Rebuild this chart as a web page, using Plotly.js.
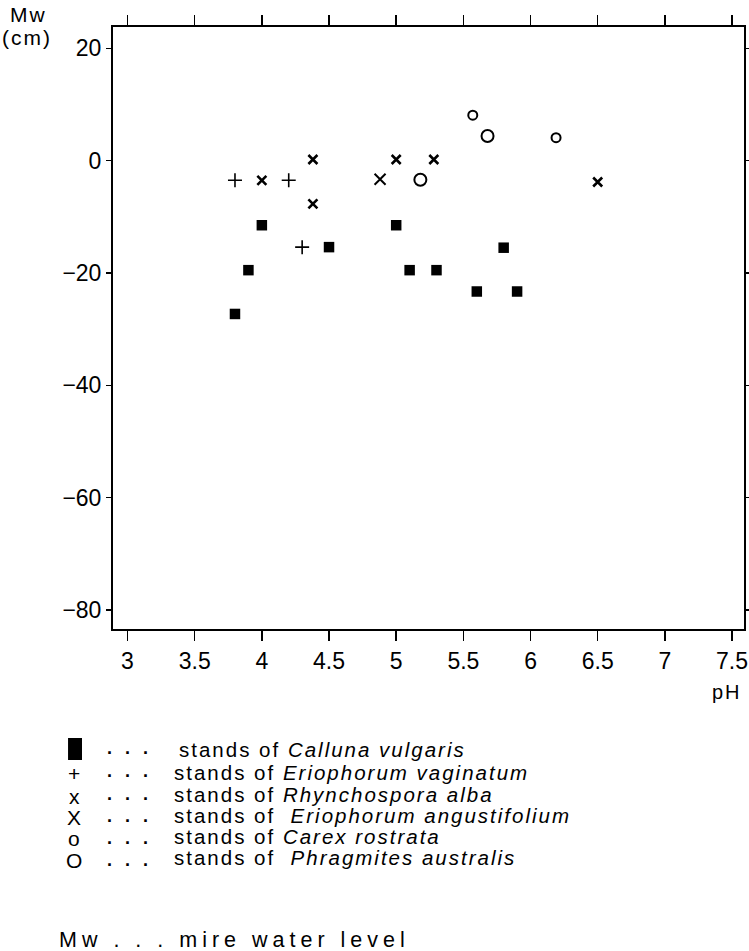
<!DOCTYPE html>
<html>
<head>
<meta charset="utf-8">
<script src="https://cdn.plot.ly/plotly-3.0.1.min.js"></script>
<style>
  html, body { margin: 0; padding: 0; background: #fff; }
  .annotation-text { letter-spacing: 2px; }
  text.annotation-text[style*="21.5px"] { letter-spacing: 5px; }
</style>
</head>
<body>
<div id="chart" style="width:749px;height:951px;"></div>
<script>
// ---- data ----
const callunaX = [3.8, 3.9, 4.0, 4.5, 5.0, 5.1, 5.3, 5.6, 5.8, 5.9];
const callunaY = [-27.3, -19.5, -11.5, -15.4, -11.5, -19.5, -19.5, -23.3, -15.5, -23.3];
const vaginatumX = [3.8, 4.2, 4.3];
const vaginatumY = [-3.5, -3.5, -15.4];
const rhynchosporaX = [4.0, 4.38, 4.38, 5.0, 5.28, 6.5];
const rhynchosporaY = [-3.5, 0.2, -7.7, 0.2, 0.2, -3.8];
const angustifoliumX = [4.88];
const angustifoliumY = [-3.3];
const carexX = [5.57, 6.19];
const carexY = [8.1, 4.1];
const phragmitesX = [5.18, 5.68];
const phragmitesY = [-3.4, 4.4];

const xTickVals = [3, 3.5, 4, 4.5, 5, 5.5, 6, 6.5, 7, 7.5];
const xTickText = ['3', '3.5', '4', '4.5', '5', '5.5', '6', '6.5', '7', '7.5'];
const yTickVals = [-80, -60, -40, -20, 0, 20];

const legendSymbols = ['+', 'x', 'X', 'o', 'O'];
const legendLabels = [
  'stands of <i>Calluna vulgaris</i>',
  'stands of <i>Eriophorum vaginatum</i>',
  'stands of <i>Rhynchospora alba</i>',
  'stands of  <i>Eriophorum angustifolium</i>',
  'stands of <i>Carex rostrata</i>',
  'stands of  <i>Phragmites australis</i>'
];
const footnote = 'Mw . . . mire water level';

// ---- layout helpers (pixel -> paper) ----
const W = 749, H = 951;
const M = {l: 113, r: 4.5, t: 27, b: 322};
const PW = W - M.l - M.r, PH = H - M.t - M.b;
const px = v => (v - M.l) / PW;
const py = v => (H - M.b - v) / PH;

const FONT = '"Liberation Sans", Arial, Helvetica, sans-serif';

const traces = [
  {x: callunaX, y: callunaY, mode: 'markers', type: 'scatter',
   marker: {symbol: 'square', size: 10.5, color: '#000'}},
  {x: vaginatumX, y: vaginatumY, mode: 'markers', type: 'scatter',
   marker: {symbol: 'cross-thin-open', size: 10, color: '#000', line: {width: 1.6, color: '#000'}}},
  {x: rhynchosporaX, y: rhynchosporaY, mode: 'markers', type: 'scatter',
   marker: {symbol: 'x-thin-open', size: 9, color: '#000', line: {width: 2.6, color: '#000'}}},
  {x: angustifoliumX, y: angustifoliumY, mode: 'markers', type: 'scatter',
   marker: {symbol: 'x-thin-open', size: 11, color: '#000', line: {width: 2, color: '#000'}}},
  {x: carexX, y: carexY, mode: 'markers', type: 'scatter',
   marker: {symbol: 'circle-open', size: 9, color: '#000', line: {width: 2, color: '#000'}}},
  {x: phragmitesX, y: phragmitesY, mode: 'markers', type: 'scatter',
   marker: {symbol: 'circle-open', size: 12, color: '#000', line: {width: 2, color: '#000'}}}
];

const ann = [];
function addText(text, x, y, size, xanchor, extra) {
  ann.push(Object.assign({
    text: text, xref: 'paper', yref: 'paper', x: px(x), y: py(y),
    xanchor: xanchor || 'left', yanchor: 'middle', showarrow: false,
    font: {family: FONT, size: size, color: '#000'}
  }, extra || {}));
  return ann.length - 1;
}
addText('Mw', 28, 14, 21, 'center');
addText('(cm)', 27, 37, 21, 'center');
addText('pH', 727, 692, 20, 'center');

const symRows = [773, 796, 817, 838, 860];
legendSymbols.forEach((s, i) => addText(s, 75, symRows[i], 21, 'center', {height: 19, valign: 'middle'}));
const dotRows = [752, 775, 798, 820, 842, 864];
dotRows.forEach(r => addText('<b>.\u2002.\u2002.</b>', 105, r - 4.5, 18, 'left'));
const textRows = [749, 772, 794, 815, 836, 857];
const textX = [177, 172, 172, 172, 172, 172];
legendLabels.forEach((t, i) => addText(t, textX[i], textRows[i], 20.5, 'left'));
addText(footnote, 57, 940, 21.5, 'left');

const layout = {
  width: W, height: H,
  margin: M,
  paper_bgcolor: '#fff', plot_bgcolor: '#fff',
  showlegend: false,
  font: {family: FONT, color: '#000'},
  xaxis: {
    range: [2.892, 7.589], tickvals: xTickVals, ticktext: xTickText,
    ticks: 'outside', ticklen: 10, tickwidth: 1.5, tickcolor: '#000',
    showline: true, linewidth: 2, linecolor: '#000', mirror: 'allticks',
    showgrid: false, zeroline: false,
    tickfont: {family: FONT, size: 23, color: '#000'}
  },
  yaxis: {
    range: [-83.4, 23.8], tickvals: yTickVals,
    ticks: 'outside', ticklen: 5, tickwidth: 1.5, tickcolor: '#000',
    showline: true, linewidth: 2, linecolor: '#000', mirror: 'allticks',
    showgrid: false, zeroline: false,
    tickfont: {family: FONT, size: 23, color: '#000'}
  },
  shapes: [
    {type: 'rect', xref: 'paper', yref: 'paper',
     x0: px(68), x1: px(82), y0: py(760), y1: py(738),
     fillcolor: '#000', line: {width: 0}}
  ],
  annotations: ann
};

Plotly.newPlot('chart', traces, layout, {displayModeBar: false, staticPlot: true});
</script>
</body>
</html>
